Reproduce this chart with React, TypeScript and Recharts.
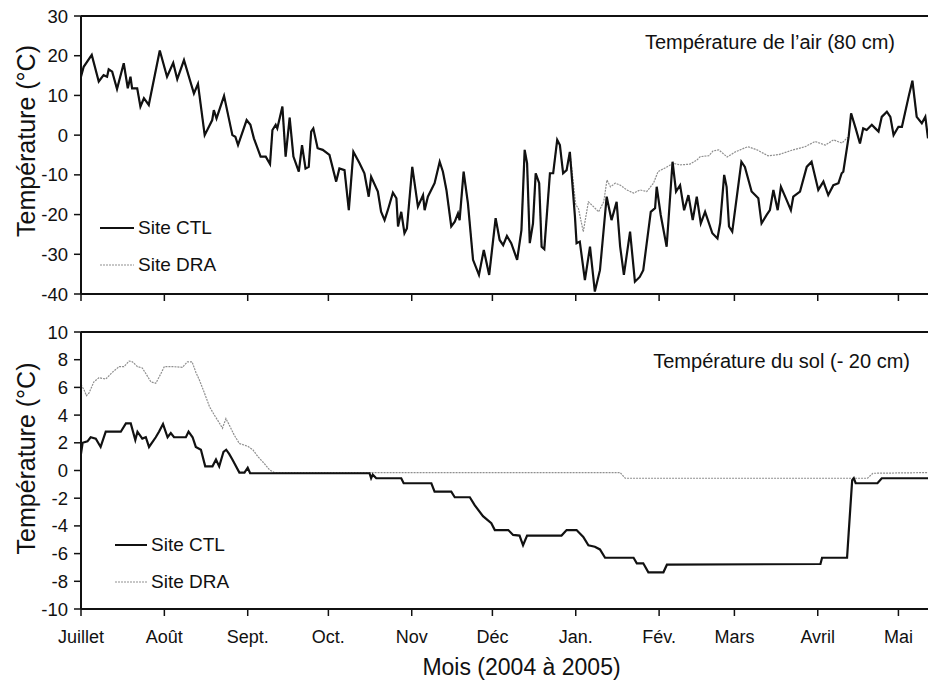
import { LineChart, Line, XAxis, YAxis, ReferenceLine, Legend } from 'recharts';

const FONT = '"Liberation Sans", Arial, Helvetica, sans-serif';
const INK = '#111';
const CTL_COLOR = '#111';
const DRA_COLOR = '#8f8f8f';

// first day of each month, counted in days since 1 July 2004
const monthDays = [0, 31, 62, 92, 123, 153, 184, 215, 243, 274, 304];
const monthNames = ['Juillet', 'Août', 'Sept.', 'Oct.', 'Nov', 'Déc', 'Jan.', 'Fév.', 'Mars', 'Avril', 'Mai'];
const airTicks = [-40, -30, -20, -10, 0, 10, 20, 30];
const soilTicks = [-10, -8, -6, -4, -2, 0, 2, 4, 6, 8, 10];

// air temperature at 80 cm, [day, °C]. Both sites overlap outside the winter months.
const airSummerAutumn: [number, number][] = [
  [0, 14.7], [1, 17.2], [4, 20.2], [6.6, 13.5], [8.4, 15.1], [9.7, 14.7], [10.3, 16.6], [11.6, 16],
  [13.4, 11.6], [15.9, 18.1], [17.4, 11.8], [18.4, 14.7], [19, 11.8], [20.9, 11.8], [22.1, 7.2],
  [23.4, 9.3], [25.2, 7.6], [29.3, 21.3], [32, 14.7], [34.3, 18.2], [35.8, 14.1], [38.3, 18.9],
  [42, 10.5], [43.5, 12.9], [46, 0], [48.8, 3.8], [49.4, 6.3], [50.4, 4.2], [53.2, 9.9], [56.3, 0],
  [57.4, -0.4], [58.4, -2.5], [61.6, 3.8], [63, 2.6], [64.3, -0.8], [66.8, -5.4], [68.7, -5.4],
  [70.3, -7.3], [71.2, 1.3], [72.4, 2.6], [73, 1.7], [74.9, 7.2], [76.1, -5.4], [77.6, 4.4],
  [79, -5.4], [81, -9.2], [82.2, -2.5], [83.5, -8.4], [84.7, -8], [85.6, 0.9], [86.4, 1.7],
  [88, -3.3], [89.9, -3.7], [92.4, -5], [94.9, -11.7], [96.1, -8.4], [98, -8.8], [99.6, -18.9],
  [101.3, -4.2], [103.6, -7.1], [105.4, -9.6], [107, -15.5], [107.9, -10.5], [110.4, -14.2],
  [111.6, -19.3], [112.9, -21.4], [114.1, -18.9], [116, -14.5], [117.3, -15.9], [117.9, -23],
  [119.1, -19.3], [120.3, -24.7], [121.2, -23.5], [123.2, -8], [125.3, -18], [127.2, -15.1],
  [127.8, -18.9], [129, -15.5], [131.5, -12.1], [133.4, -6.7], [134.6, -9.2], [135.9, -13.8],
  [137.7, -23], [139, -21.8], [140.2, -19.7], [140.8, -21.4], [142.3, -9.2], [143.9, -17.2],
  [145.8, -31.4], [148, -35.2], [149.8, -28.9], [151.8, -35.2], [154.2, -20.9], [155.7, -26.4],
  [157, -27.7], [158.4, -25.4], [160, -27.2], [162.2, -31.4], [163.8, -23.9], [165, -3.7],
  [165.9, -7.1], [166.9, -27.2], [168.1, -22.2], [169.1, -9.6], [170.4, -12.1], [171.3, -28.1],
  [172.3, -28.7], [174.4, -9.6], [175.6, -9.6], [177.1, -1.2], [178.1, -2.5], [179.3, -9.6],
  [180.6, -8.8], [181.8, -4.2],
];

const airCtlWinter: [number, number][] = [
  [183.7, -20.5], [184.3, -27.2], [185.5, -26.8], [187.4, -36.5], [189.3, -28.1], [191.1, -39.4],
  [193, -34], [195.5, -15.5], [197.3, -21.4], [199.2, -16.8], [200.5, -28], [201.9, -35.2],
  [204.2, -24.3], [206, -36.9], [207.8, -35.7], [209.1, -34], [211.9, -19.3], [213.5, -18.4],
  [214.1, -13], [215.6, -20.1], [217.8, -28.1], [220, -6.7], [221.3, -14.2], [222.8, -12.6],
  [224.3, -18.9], [225.9, -15.1], [227.5, -21.4], [229, -15.5], [230.5, -22.2], [232.1, -19.3],
  [234.8, -24.7], [236.7, -26], [237.7, -22.2], [239.2, -10], [240.1, -13], [241, -23],
  [242.2, -24.3], [245.6, -6.7], [246.9, -8], [249.4, -14.2], [251.9, -15.9], [253.1, -22.2],
  [255, -20.1], [256.2, -18.9], [257.5, -13.8], [259.1, -18.9], [260.3, -13], [262.4, -16.3],
  [264, -18.9], [264.9, -15.5], [267.4, -14.2], [269.9, -8], [271.7, -6.7], [274.2, -13.8],
  [276.1, -11.7], [277.9, -15.1], [279.8, -12.6], [281.7, -12.1], [282.9, -9.6], [283.5, -9.2],
];

const airDraWinter: [number, number][] = [
  [184, -17.5], [185, -18.5], [186.8, -24.3], [188.7, -16.8], [190.6, -18], [192.5, -19.3],
  [194.4, -16.8], [195.6, -11.3], [196.9, -13], [198.7, -12.1], [200.6, -12.6], [203, -13.8],
  [205.5, -14.6], [207.9, -13.8], [210.4, -14.2], [212.9, -12.1], [214.6, -9.2], [217.9, -8],
  [220.3, -7.1], [222.8, -7.5], [226.5, -7.3], [229, -6.3], [230.3, -5.4], [233.5, -5.2],
  [235, -4], [237.2, -3.7], [240.3, -5.5], [243.4, -4.2], [248, -2.9], [251.4, -3.7],
  [255.5, -5.2], [259.5, -4.9], [264.4, -3.8], [269.3, -2.9], [273, -1.6], [276.8, -2.5],
  [279.9, -1.2], [283, -2], [284.8, -0.8],
];

const airSpring: [number, number][] = [
  [285.5, -0.4], [286.4, 5.5], [288.1, 1.7], [289.7, -2.1], [290.9, 1.7], [292.2, 1.3],
  [294.1, 2.6], [295.4, 1.7], [296.6, 0.9], [297.8, 4.6], [299.7, 5.9], [301, 4.6], [302.2, 0],
  [304, 2.1], [305.3, 2.1], [307.8, 9.7], [309.2, 13.7], [310.8, 4.6], [312.7, 3], [314, 4.6],
  [315, -0.8],
];

// soil temperature at -20 cm, [day, °C]
const soilCtl: [number, number][] = [
  [0, 1.2], [0.6, 2], [2.4, 2.1], [3.6, 2.4], [5.5, 2.3], [7.3, 1.7], [9.2, 2.8], [14.8, 2.8],
  [16.7, 3.4], [18.5, 3.4], [20.2, 2.2], [21, 2.8], [22.8, 2.3], [24.1, 2.4], [25.3, 1.7],
  [27.8, 2.4], [29, 2.8], [30.5, 3.35], [32.2, 2.4], [33.4, 2.7], [34.6, 2.4], [39, 2.4],
  [40, 2.8], [41.5, 2.4], [42.7, 1.7], [44.6, 1.5], [46.2, 0.3], [48.9, 0.3], [50.2, 0.8],
  [51.4, 0.3], [53, 1.35], [54, 1.5], [55.1, 1.2], [56.3, 0.8], [58.9, -0.15], [60.8, -0.15],
  [62, 0.2], [62.9, -0.2], [107.3, -0.2], [107.9, -0.56], [108.5, -0.3], [109.8, -0.56],
  [119.1, -0.56], [120, -0.92], [130.3, -0.92], [131.5, -1.53], [137.7, -1.53], [139, -1.93],
  [144.6, -1.93], [146.4, -2.5], [149.5, -3.3], [152.6, -3.8], [153.9, -4.3], [158.9, -4.3],
  [160.7, -4.65], [163.1, -4.7], [164.4, -5.4], [165.9, -4.7], [178.7, -4.7], [180.6, -4.3],
  [184.3, -4.3], [186.8, -4.8], [188.7, -5.4], [191.1, -5.5], [193, -5.7], [194.9, -6.3],
  [205.5, -6.3], [206.7, -6.7], [209.1, -6.7], [211, -7.35], [216.6, -7.35], [217.9, -6.8],
  [275, -6.75], [275.6, -6.3], [284.9, -6.3], [285.5, -4.5], [286.8, -0.7], [287.4, -0.56],
  [288.1, -0.92], [296.2, -0.92], [297.8, -0.56], [315, -0.56],
];

const soilDra: [number, number][] = [
  [0, 6.2], [1.2, 5.8], [2, 5.4], [3, 5.6], [4.8, 6.4], [6.7, 6.7], [9.2, 6.6], [11.7, 7.1],
  [14.2, 7.5], [16, 7.5], [17.9, 7.9], [19.1, 7.85], [21, 7.5], [22.8, 7.4], [24.1, 7], [26, 6.4],
  [27.8, 6.3], [29.2, 6.8], [31, 7.5], [34.1, 7.5], [37.7, 7.45], [39.6, 7.85], [41.3, 7.85],
  [42.7, 7.1], [44.1, 6.5], [45.9, 5.6], [47.8, 4.6], [49.6, 4], [51.4, 3.45], [52.6, 3.05],
  [53.9, 3.75], [55.1, 3.3], [57, 2.55], [58.9, 1.95], [62, 1.75], [63.9, 1.5], [65.8, 1],
  [68.2, 0.5], [70.1, 0.05], [71.9, -0.15], [200.5, -0.15], [202.4, -0.56], [292.5, -0.56],
  [294.5, -0.2], [315, -0.15],
];

const toPoints = (pairs: [number, number][]) => pairs.map(([day, t]) => ({ day, t }));

const airCtl = toPoints([...airSummerAutumn, ...airCtlWinter, ...airSpring]);
const airDra = toPoints([...airSummerAutumn, ...airDraWinter, ...airSpring]);

function SiteLegend({ lineLen }: { lineLen: number }) {
  const rows = [
    { name: 'Site CTL', color: CTL_COLOR, width: 2, dash: undefined as string | undefined },
    { name: 'Site DRA', color: DRA_COLOR, width: 1.2, dash: '2 1' },
  ];
  return (
    <div style={{ fontFamily: FONT, fontSize: 19, color: INK }}>
      {rows.map((r) => (
        <div key={r.name} style={{ display: 'flex', alignItems: 'center', height: 37 }}>
          <svg width={lineLen} height={4} style={{ marginRight: 4 }}>
            <line x1={0} y1={2} x2={lineLen} y2={2} stroke={r.color} strokeWidth={r.width} strokeDasharray={r.dash} />
          </svg>
          <span>{r.name}</span>
        </div>
      ))}
    </div>
  );
}

type PanelProps = {
  height: number;
  xAxisHeight: number;
  yDomain: [number, number];
  yTicks: number[];
  ctl: { day: number; t: number }[];
  dra: { day: number; t: number }[];
  title: string;
  titleOffset: number;
  titleDx: number;
  titleDy: number;
  yLabelDy: number;
  legendLeft: number;
  legendTop: number;
  legendLine: number;
  showMonths: boolean;
};

function Panel(p: PanelProps) {
  const axisStroke = { stroke: INK, strokeWidth: 2 };
  return (
    <LineChart width={928} height={p.height} margin={{ top: 16, right: 0, bottom: 0, left: 0 }}>
      <XAxis
        type="number"
        dataKey="day"
        domain={[0, 315]}
        ticks={monthDays}
        interval={0}
        allowDataOverflow
        height={p.xAxisHeight}
        tickSize={7}
        tickMargin={14}
        axisLine={axisStroke}
        tickLine={{ stroke: INK, strokeWidth: 1.5 }}
        tick={{ fill: INK, fontSize: 18, fontFamily: FONT }}
        tickFormatter={(d: number) => (p.showMonths ? monthNames[monthDays.indexOf(d)] : '')}
        label={
          p.showMonths
            ? { value: 'Mois (2004 à 2005)', position: 'insideBottom', offset: 6, dx: 17, fontSize: 23, fontFamily: FONT, fill: INK }
            : undefined
        }
      />
      <YAxis
        type="number"
        domain={p.yDomain}
        ticks={p.yTicks}
        interval={0}
        allowDataOverflow
        width={81}
        tickSize={7}
        tickMargin={6}
        axisLine={axisStroke}
        tickLine={{ stroke: INK, strokeWidth: 1.5 }}
        tick={{ fill: INK, fontSize: 18.5, fontFamily: FONT }}
        label={{ value: 'Température (°C)', angle: -90, position: 'center', dx: -14, dy: p.yLabelDy, fontSize: 25, fontFamily: FONT, fill: INK }}
      />
      <ReferenceLine
        y={p.yDomain[1]}
        stroke={INK}
        strokeWidth={2}
        label={{ value: p.title, position: 'insideTopRight', offset: p.titleOffset, dx: p.titleDx, dy: p.titleDy, fontSize: 20, fontFamily: FONT, fill: INK }}
      />
      <Line data={p.dra} dataKey="t" type="linear" stroke={DRA_COLOR} strokeWidth={1.2} strokeDasharray="2 1" dot={false} isAnimationActive={false} />
      <Line data={p.ctl} dataKey="t" type="linear" stroke={CTL_COLOR} strokeWidth={2.2} dot={false} isAnimationActive={false} />
      <Legend
        layout="vertical"
        align="center"
        verticalAlign="middle"
        wrapperStyle={{ left: p.legendLeft, top: p.legendTop, width: 'auto' }}
        content={() => <SiteLegend lineLen={p.legendLine} />}
      />
    </LineChart>
  );
}

export default function App() {
  return (
    <div style={{ position: 'absolute', left: 0, top: 0, width: 928, height: 681, background: '#fff' }}>
      <Panel
        height={316}
        xAxisHeight={22}
        yDomain={[-40, 30]}
        yTicks={airTicks}
        ctl={airCtl}
        dra={airDra}
        title="Température de l’air (80 cm)"
        titleOffset={20}
        titleDx={-13}
        titleDy={-1}
        yLabelDy={-14}
        legendLeft={100}
        legendTop={209}
        legendLine={34}
        showMonths={false}
      />
      <Panel
        height={365}
        xAxisHeight={72}
        yDomain={[-10, 10]}
        yTicks={soilTicks}
        ctl={toPoints(soilCtl)}
        dra={toPoints(soilDra)}
        title="Température du sol (- 20 cm)"
        titleOffset={18}
        titleDx={0}
        titleDy={4}
        yLabelDy={-12}
        legendLeft={115}
        legendTop={210}
        legendLine={32}
        showMonths
      />
    </div>
  );
}
